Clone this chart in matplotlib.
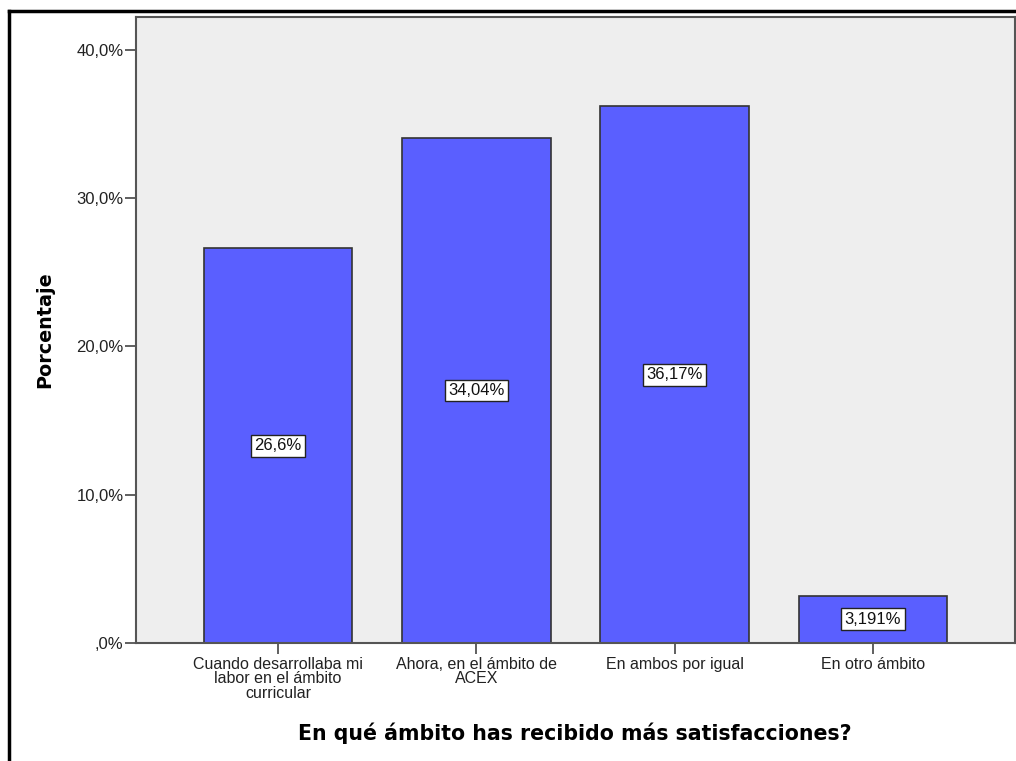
import matplotlib
matplotlib.use("Agg")
import matplotlib.pyplot as plt
from matplotlib.lines import Line2D

categories = [
    "Cuando desarrollaba mi\nlabor en el ámbito\ncurricular",
    "Ahora, en el ámbito de\nACEX",
    "En ambos por igual",
    "En otro ámbito",
]
percentages = [26.6, 34.04, 36.17, 3.191]
value_labels = ["26,6%", "34,04%", "36,17%", "3,191%"]
ytick_values = [0, 10, 20, 30, 40]
ytick_labels = [",0%", "10,0%", "20,0%", "30,0%", "40,0%"]

W, H = 1016, 761
fig = plt.figure(figsize=(W / 100, H / 100), dpi=100)
fig.patch.set_facecolor("white")

# plot region in pixel coordinates
left, right, top, bottom = 136, 1015, 17, 643
ax = fig.add_axes([left / W, 1 - bottom / H, (right - left) / W, (bottom - top) / H])
ax.set_facecolor("#EEEEEE")

x = list(range(len(categories)))
ax.bar(x, percentages, width=0.75, color="#5A5FFF", edgecolor="#333333",
       linewidth=1.2, zorder=2)

for xi, val, lab in zip(x, percentages, value_labels):
    ax.text(xi, val / 2, lab, ha="center", va="center", fontsize=12,
            family="Liberation Sans", color="#111111", zorder=3,
            bbox=dict(boxstyle="square,pad=0.2", facecolor="white",
                      edgecolor="#222222", linewidth=1.0))

ax.set_xlim(-0.716, 3.716)
ax.set_ylim(0, 42.2)
ax.set_yticks(ytick_values)
ax.set_yticklabels(ytick_labels, family="Liberation Sans", fontsize=12, color="#222222")
ax.set_xticks(x)
ax.set_xticklabels(categories, family="Liberation Sans", fontsize=11.5,
                   color="#222222", linespacing=0.95)
ax.tick_params(axis="both", direction="out", length=8, width=1.2, color="#444444")
ax.tick_params(axis="x", pad=2)
ax.tick_params(axis="y", pad=1)

for side, sp in ax.spines.items():
    sp.set_color("#555555")
    sp.set_linewidth(1.5)

fig.text(45 / W, 1 - 330 / H, "Porcentaje", rotation=90, ha="center", va="center",
         family="DejaVu Sans", fontweight="bold", fontsize=13.8)
fig.text(575 / W, 1 - 733 / H,
         "En qué ámbito has recibido más satisfacciones?",
         ha="center", va="center", family="DejaVu Sans", fontweight="bold",
         fontsize=14.8)

# outer frame: top and left edges
fig.add_artist(Line2D([9 / W, 1.0], [1 - 11 / H, 1 - 11 / H],
                      transform=fig.transFigure, color="black", linewidth=2.5))
fig.add_artist(Line2D([9 / W, 9 / W], [0, 1 - 11 / H],
                      transform=fig.transFigure, color="black", linewidth=2.5))

fig.savefig("out.png", dpi=100)
